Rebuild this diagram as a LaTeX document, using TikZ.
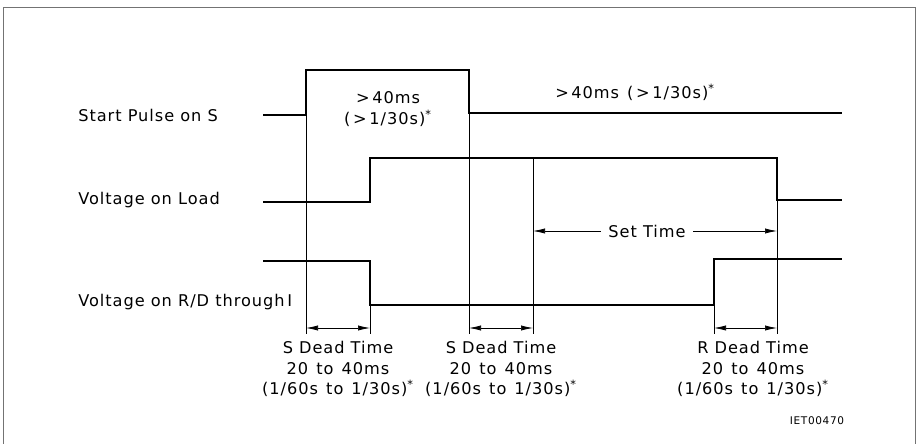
\documentclass[tikz,border=0pt]{standalone}
\usepackage{fontspec}
\setmainfont[LetterSpace=6]{DejaVu Sans}
\usetikzlibrary{arrows.meta}

\begin{document}
\begin{tikzpicture}[
	x=0.025cm, y=-0.025cm,
	wave/.style={ line width=2pt, line join=miter },
	guide/.style={ line width=0.5pt },
	dim/.style={ line width=0.5pt, {Latex[length=3mm,width=1.3mm]}-{Latex[length=3mm,width=1.3mm]} },
	siglabel/.style={ anchor=west, inner sep=0pt, font=\fontsize{11.5}{13}\selectfont },
	note/.style={ align=center, inner sep=0pt, font=\fontsize{11.5}{14.5}\selectfont }
]
\useasboundingbox (0,0) rectangle (920,444);
\draw[black!55, line width=0.6pt] (3,444) -- (3,7) -- (915,7) -- (915,444);

% time instants
\coordinate (t0) at (263,0);
\coordinate (t1) at (306,0);
\coordinate (t2) at (370,0);
\coordinate (t3) at (469,0);
\coordinate (t4) at (533,0);
\coordinate (t5) at (714,0);
\coordinate (t6) at (777,0);
\coordinate (t7) at (842,0);

% signal names
\node at (78,115) (sLab) [siglabel] {Start Pulse on S};
\node at (78,200) (lLab) [siglabel] {Voltage on Load};
\node at (78,302) (rLab) [siglabel] {Voltage on R/D through\,I};

% waveforms
\draw[wave] (t0 |- 0,115) -- (t1 |- 0,115) -- (t1 |- 0,70) -- (t3 |- 0,70) -- (t3 |- 0,113) -- (t7 |- 0,113);
\draw[wave] (t0 |- 0,202) -- (t2 |- 0,202) -- (t2 |- 0,158) -- (t6 |- 0,158) -- (t6 |- 0,200) -- (t7 |- 0,200);
\draw[wave] (t0 |- 0,261) -- (t2 |- 0,261) -- (t2 |- 0,305) -- (t5 |- 0,305) -- (t5 |- 0,259) -- (t7 |- 0,259);

% guide lines
\coordinate (g1) at (t1 |- 0,334);
\coordinate (g2) at (t2 |- 0,334);
\coordinate (g3) at (t3 |- 0,334);
\coordinate (g4) at (t4 |- 0,334);
\coordinate (g5) at (t5 |- 0,334);
\coordinate (g6) at (t6 |- 0,334);
\draw[guide] (t1 |- 0,70) -- (g1);
\draw[guide] (t2 |- 0,305) -- (g2);
\draw[guide] (t3 |- 0,113) -- (g3);
\draw[guide] (t4 |- 0,158) -- (g4);
\draw[guide] (t5 |- 0,305) -- (g5);
\draw[guide] (t6 |- 0,200) -- (g6);

% dead times
\coordinate (d1) at (t1 |- 0,328);
\coordinate (d2) at (t2 |- 0,328);
\coordinate (d3) at (t3 |- 0,328);
\coordinate (d4) at (t4 |- 0,328);
\coordinate (d5) at (t5 |- 0,328);
\coordinate (d6) at (t6 |- 0,328);
\draw[dim] (d1) -- (d2);
\draw[dim] (d3) -- (d4);
\draw[dim] (d5) -- (d6);

% set time
\coordinate (st1) at (t4 |- 0,231);
\coordinate (st2) at (t6 |- 0,231);
\draw[dim] (st1) -- (st2);
\node at (647,231) (setT) [fill=white, inner xsep=5pt, font=\fontsize{11.5}{13}\selectfont] {Set Time};

% notes
\node at (388,109) (pulseW) [note] {>\,40ms\\(\,>\,1/30s)\textsuperscript{*}};
\node at (635,92) (pulseG) [note] {>\,40ms\enspace(\,>\,1/30s)\textsuperscript{*}};
\node at (338,369) (sDead1) [note] {S Dead Time\\20\enspace to\enspace 40ms\\(1/60s\enspace to\enspace 1/30s)\textsuperscript{*}};
\node at (501,369) (sDead2) [note] {S Dead Time\\20\enspace to\enspace 40ms\\(1/60s\enspace to\enspace 1/30s)\textsuperscript{*}};
\node at (753,369) (rDead) [note] {R Dead Time\\20\enspace to\enspace 40ms\\(1/60s\enspace to\enspace 1/30s)\textsuperscript{*}};
\node at (817,421) (figId) [inner sep=0pt, font=\fontsize{7.5}{8}\selectfont] {IET00470};

\end{tikzpicture}
\end{document}
